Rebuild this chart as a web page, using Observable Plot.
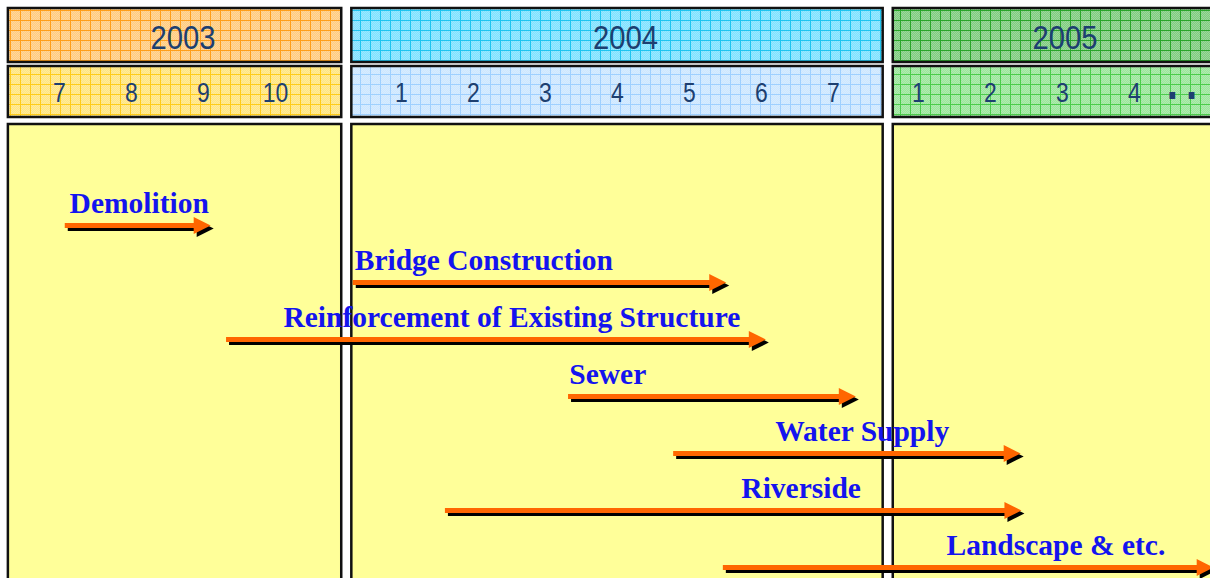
<!DOCTYPE html>
<html><head><meta charset="utf-8">
<script src="https://cdn.jsdelivr.net/npm/d3@7"></script>
<script src="https://cdn.jsdelivr.net/npm/@observablehq/plot@0.6"></script>
<style>
html,body{margin:0;padding:0;background:#fff;}
body{width:1210px;height:578px;overflow:hidden;}
#chart svg{display:block;}
</style></head><body><div id="chart"></div>
<script>
// ---------- data ----------
const years = [2003, 2004, 2005];
const yearMonths = [[7, 8, 9, 10], [1, 2, 3, 4, 5, 6, 7], [1, 2, 3, 4]];
const moreYear = 2005, moreMonth = 4.66, moreText = "▪\u2003▪";
// panel extent per year (in months of that year)
const panelFrom = [6.29, 0.31, 0.65];
const panelTo = [10.92, 7.69, 5.2];
// compressed calendar: offset of each year's months on the shared axis
const yearOffset = [-7, 3.75, 10.93];

const tasks = ["Demolition", "Bridge Construction", "Reinforcement of Existing Structure", "Sewer", "Water Supply", "Riverside", "Landscape & etc."];
const startYear = [2003, 2004, 2003, 2004, 2004, 2004, 2004];
const startMonth = [7.08, 0.33, 9.32, 3.32, 4.78, 1.61, 5.47];
const endYear = [2003, 2004, 2004, 2004, 2005, 2005, 2005];
const endMonth = [9.1, 5.51, 6.06, 7.31, 2.42, 2.43, 5.1];
const labelYear = [2003, 2004, 2003, 2004, 2004, 2004, 2005];
const labelMonth = [7.14, 0.35, 10.11, 3.33, 6.19, 5.72, 1.39];

// ---------- styles ----------
const W = 1210;
const yearFill = ["#ffcc80", "#80e2ff", "#80cc80"];
const yearGrid = ["#ff9f1a", "#1fc4f0", "#2aa52a"];
const monthFill = ["#ffe580", "#cde7ff", "#9be69b"];
const monthGrid = ["#ffcc1a", "#9fd0ff", "#4ccc4c"];
const navy = "#1d3f70";
const headFont = "'Liberation Sans', Arial, sans-serif";
const serif = "'Liberation Serif', 'Times New Roman', serif";

const pos = (y, m) => m + yearOffset[years.indexOf(y)];
const monthPx = 72, firstCenterPx = 59;
const xDomain = [-firstCenterPx / monthPx, (W - firstCenterPx) / monthPx];

const panels = years.map((y, i) => ({year: y, i, x1: pos(y, panelFrom[i]), x2: pos(y, panelTo[i])}));
const gaps = panels.slice(0, -1).map((p, i) => ({x1: p.x2, x2: panels[i + 1].x1}));
const monthTicks = years.flatMap((y, i) => yearMonths[i].map(m => ({x: pos(y, m), text: String(m)})));
const moreTick = [{x: pos(moreYear, moreMonth), text: moreText}];
const rows = tasks.map((t, i) => ({
  task: t,
  x1: pos(startYear[i], startMonth[i]),
  x2: pos(endYear[i], endMonth[i]),
  lx: pos(labelYear[i], labelMonth[i])
}));

function addPatterns(svg, prefix, fills, grids) {
  const defs = d3.select(svg).insert("defs", ":first-child");
  const ck = defs.append("pattern").attr("id", prefix + "ck").attr("patternUnits", "userSpaceOnUse")
    .attr("width", 2).attr("height", 2);
  ck.append("rect").attr("width", 1).attr("height", 1).attr("fill", "#fff").attr("fill-opacity", 0.22);
  ck.append("rect").attr("x", 1).attr("y", 1).attr("width", 1).attr("height", 1).attr("fill", "#fff").attr("fill-opacity", 0.22);
  fills.forEach((f, i) => {
    const p = defs.append("pattern").attr("id", prefix + i).attr("patternUnits", "userSpaceOnUse")
      .attr("width", 10).attr("height", 10);
    p.append("rect").attr("width", 10).attr("height", 10).attr("fill", f);
    p.append("rect").attr("width", 10).attr("height", 10).attr("fill", `url(#${prefix}ck)`);
    p.append("rect").attr("width", 10).attr("height", 1).attr("fill", grids[i]);
    p.append("rect").attr("width", 1).attr("height", 10).attr("fill", grids[i]);
  });
}
// condense header glyphs horizontally (narrow typeface look)
function condense(svg, k) {
  d3.select(svg).selectAll("g[aria-label=text] text").each(function() {
    const t = this.getAttribute("transform") || "";
    this.setAttribute("transform", t + ` scale(${k},1)`);
  });
}

const base = {width: W, marginLeft: 0, marginRight: 0, marginTop: 0, marginBottom: 0,
  x: {domain: xDomain, axis: null}, color: {type: "identity"}, style: {background: "transparent"}};

// ---------- year header ----------
const p1 = Plot.plot({...base, height: 64, marks: [
  Plot.rect(panels, {x1: "x1", x2: "x2", insetTop: 8, insetBottom: 2, fill: d => `url(#yr${d.i})`, stroke: "#111", strokeWidth: 2.5}),
  Plot.text(panels, {x: d => (d.x1 + d.x2) / 2, text: d => String(d.year), dx: 8, dy: 6, fontSize: 34, fill: navy, fontFamily: headFont})
]});
addPatterns(p1, "yr", yearFill, yearGrid);
condense(p1, 0.86);

// ---------- month header ----------
const p2 = Plot.plot({...base, height: 56, marks: [
  Plot.rect(panels, {x1: "x1", x2: "x2", insetTop: 2, insetBottom: 3, fill: d => `url(#mo${d.i})`, stroke: "#111", strokeWidth: 2.5}),
  Plot.text(monthTicks, {x: "x", text: "text", dy: 1, fontSize: 28, fill: navy, fontFamily: headFont}),
  Plot.text(moreTick, {x: "x", text: "text", dy: 2, fontSize: 14, fill: navy, fontFamily: "'DejaVu Sans', sans-serif"})
]});
addPatterns(p2, "mo", monthFill, monthGrid);
condense(p2, 0.82);

// ---------- main gantt ----------
const arrowHead = {draw(ctx) { ctx.moveTo(0, 0); ctx.lineTo(-17, -8.5); ctx.lineTo(-17, 8.5); ctx.closePath(); }};
const p3 = Plot.plot({...base, height: 458,
  y: {domain: tasks, type: "point", padding: 0, range: [104, 447], axis: null},
  marks: [
    Plot.rect(panels, {x1: "x1", x2: "x2", insetTop: 4, insetBottom: -20, fill: "#ffff99", stroke: "#111", strokeWidth: 2.5}),
    Plot.text(rows, {x: "lx", y: "task", text: "task", textAnchor: "start", dy: -22, fontSize: 29.5, fontWeight: "bold", fill: "#1414ee", fontFamily: serif}),
    Plot.ruleY(rows, {x1: "x1", x2: "x2", y: "task", stroke: "#000", strokeWidth: 5, dx: 3, dy: 3, insetRight: 12}),
    Plot.dot(rows, {x: "x2", y: "task", symbol: arrowHead, fill: "#000", dx: 3, dy: 3}),
    Plot.ruleY(rows, {x1: "x1", x2: "x2", y: "task", stroke: "#ff6600", strokeWidth: 5, insetRight: 12}),
    Plot.dot(rows, {x: "x2", y: "task", symbol: arrowHead, fill: "#ff6600"})
  ]});

const root = document.getElementById("chart");
root.append(p1, p2, p3);
</script>
</body></html>
